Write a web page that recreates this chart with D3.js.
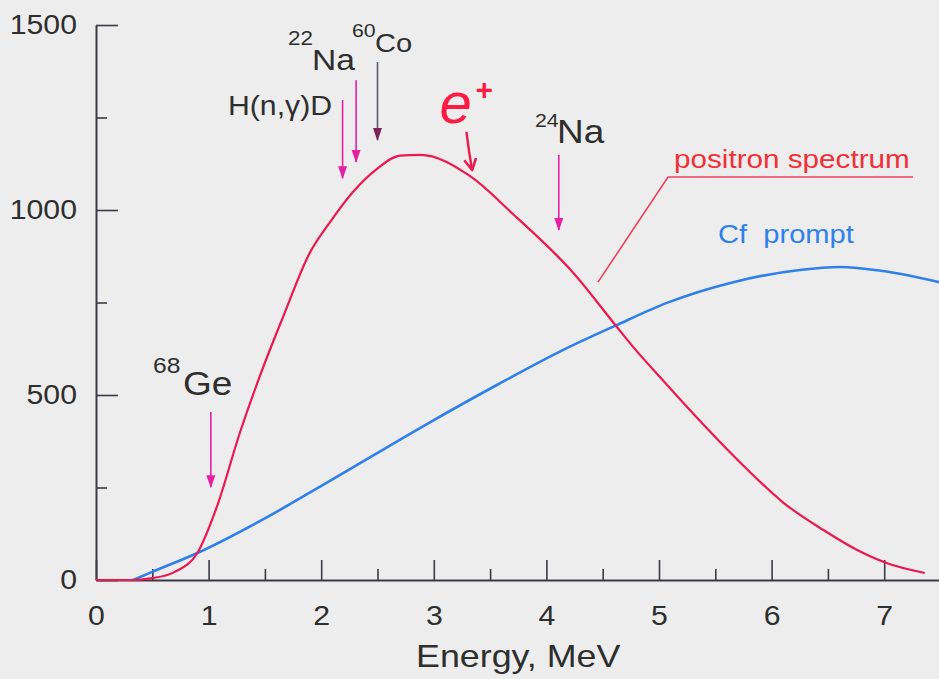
<!DOCTYPE html>
<html><head><meta charset="utf-8">
<script src="https://cdn.jsdelivr.net/npm/d3@7"></script>
<style>
html,body{margin:0;padding:0;background:#ededed;}
svg{display:block;}
text{font-family:"Liberation Sans",Arial,sans-serif;}
.sx{transform-box:fill-box;transform:scaleX(1.12);}
.sx-mid{transform-origin:50% 50%;}
.sx-end{transform-origin:100% 50%;}
.sx-start{transform-origin:0% 50%;}
</style></head><body>
<svg id="chart" width="939" height="679"></svg>
<script>
// ---- data ----
const positronE = [0, 0.3, 0.5, 0.7, 0.9, 1.07, 1.28, 1.46, 1.66, 1.9, 2.08, 2.28, 2.49, 2.7, 2.88, 3.32, 3.7, 4.09, 4.21, 4.61, 4.77, 5.04, 5.34, 5.78, 6.1, 6.46, 6.76, 7.02, 7.36];
const positronN = [0, 0, 5, 22, 73, 195, 400, 555, 710, 885, 968, 1048, 1110, 1147, 1149, 1092, 990, 878, 840, 690, 630, 538, 438, 300, 210, 135, 81, 46, 19];
const cfE = [0.33, 0.5, 0.9, 1.52, 2.1, 2.97, 3.56, 4.15, 4.61, 5.07, 5.66, 6.25, 6.61, 6.99, 7.49];
const cfN = [0, 22, 73, 170, 272, 427, 527, 622, 687, 749, 805, 838, 846, 835, 805];
const xTicks = [0, 1, 2, 3, 4, 5, 6, 7];
const xMinorTicks = [0.5, 1.5, 2.5, 3.5, 4.5, 5.5, 6.5];
const yTicks = [0, 500, 1000, 1500];
const yMinorTicks = [250, 750, 1250];
const xTitle = "Energy, MeV";
const seriesNames = ["positron spectrum", "Cf\u00A0 prompt"];
// source markers: energy, arrow start count, arrow end count
const sourceNames = ["68Ge", "H(n,\u03B3)D", "22Na", "60Co", "24Na"];
const sourceE = [1.02, 2.19, 2.31, 2.50, 4.11];
const sourceFrom = [454, 1297, 1351, 1400, 1149];
const sourceTo = [251, 1086, 1130, 1189, 946];

// ---- layout ----
const W = 939, H = 679;
const svg = d3.select("#chart");
svg.append("rect").attr("width", W).attr("height", H).attr("fill", "#ededed");
const x = d3.scaleLinear().domain([0, 7.5]).range([96, 940.5]);
const y = d3.scaleLinear().domain([0, 1500]).range([580, 25]);

const axisColor = "#3a3a48", textColor = "#2e2e2e";
const red = "#ec1850", blue = "#2f80ea", mag = "#e420a4";

function styleAxis(g) {
  g.select(".domain").attr("stroke", axisColor).attr("stroke-width", 2);
  g.selectAll(".tick line").attr("stroke", axisColor).attr("stroke-width", 1.6);
  g.attr("font-family", null).attr("font-size", null);
  g.selectAll("text").attr("fill", textColor).attr("font-size", 27);
}

// x axis
const gx = svg.append("g").attr("transform", `translate(0,${y(0)})`)
  .call(d3.axisBottom(x).tickValues(xTicks).tickFormat(d3.format("d"))
    .tickSizeInner(-20).tickSizeOuter(0).tickPadding(26));
styleAxis(gx);
gx.selectAll("text").attr("class", "sx sx-mid");
const gxm = svg.append("g").attr("transform", `translate(0,${y(0)})`)
  .call(d3.axisBottom(x).tickValues(xMinorTicks).tickFormat("")
    .tickSizeInner(-11).tickSizeOuter(0));
styleAxis(gxm);
gxm.select(".domain").remove();

// y axis
const gy = svg.append("g").attr("transform", `translate(${x(0)},0)`)
  .call(d3.axisLeft(y).tickValues(yTicks).tickFormat(d3.format("d"))
    .tickSizeInner(-22).tickSizeOuter(0).tickPadding(19));
styleAxis(gy);
gy.selectAll("text").attr("class", "sx sx-end");
const gym = svg.append("g").attr("transform", `translate(${x(0)},0)`)
  .call(d3.axisLeft(y).tickValues(yMinorTicks).tickFormat("")
    .tickSizeInner(-11).tickSizeOuter(0));
styleAxis(gym);
gym.select(".domain").remove();

// axis title
svg.append("text").attr("class", "sx sx-mid")
  .attr("x", x(3.75)).attr("y", 667).attr("text-anchor", "middle")
  .attr("font-size", 32).attr("fill", textColor).text(xTitle);

// curves
const line = d3.line().x(d => x(d[0])).y(d => y(d[1])).curve(d3.curveMonotoneX);
svg.append("path").datum(d3.zip(cfE, cfN)).attr("d", line)
  .attr("fill", "none").attr("stroke", blue).attr("stroke-width", 2.6);
svg.append("path").datum(d3.zip(positronE, positronN)).attr("d", line)
  .attr("fill", "none").attr("stroke", red).attr("stroke-width", 2.2);

// arrow heads
const defs = svg.append("defs");
function head(id, color) {
  defs.append("marker").attr("id", id).attr("markerUnits", "userSpaceOnUse")
    .attr("viewBox", "0 -5 13 10").attr("refX", 12).attr("refY", 0)
    .attr("markerWidth", 13).attr("markerHeight", 10).attr("orient", "auto")
    .append("path").attr("d", "M0,-4.5L13,0L0,4.5Z").attr("fill", color);
}
head("hMag", mag);
head("hDark", "#7a2458");
defs.append("marker").attr("id", "hRed").attr("markerUnits", "userSpaceOnUse")
  .attr("viewBox", "-1 -7 14 14").attr("refX", 11).attr("refY", 0)
  .attr("markerWidth", 14).attr("markerHeight", 14).attr("orient", "auto")
  .append("path").attr("d", "M0,-6L11,0L0,6").attr("fill", "none")
  .attr("stroke", red).attr("stroke-width", 2.6).attr("stroke-linejoin", "round");

// source arrows
sourceE.forEach((e, i) => {
  const dark = sourceNames[i] === "60Co";
  svg.append("line")
    .attr("x1", x(e)).attr("x2", x(e))
    .attr("y1", y(sourceFrom[i])).attr("y2", y(sourceTo[i]))
    .attr("stroke", dark ? "#5a5a68" : mag).attr("stroke-width", 1.6)
    .attr("marker-end", dark ? "url(#hDark)" : "url(#hMag)");
});

// source labels (mass number + element), positioned in data units
function lab(txt, e, v, size, color, extra) {
  const t = svg.append("text").attr("class", "sx sx-start")
    .attr("x", x(e)).attr("y", y(v)).attr("font-size", size)
    .attr("fill", color || textColor).text(txt);
  if (extra) extra(t);
  return t;
}
lab("68", 0.506, 559, 22);
lab("Ge", 0.773, 500, 33);
lab("H(n,\u03B3)D", 1.172, 1257, 27);
lab("22", 1.705, 1446, 20);
lab("Na", 1.918, 1378, 30);
lab("60", 2.273, 1468, 19);
lab("Co", 2.478, 1427, 26);
lab("24", 3.899, 1224, 19);
lab("Na", 4.094, 1181, 33);

// e+ label and arrow
svg.append("text").attr("x", x(3.05)).attr("y", y(1235))
  .attr("font-size", 58).attr("font-style", "italic").attr("fill", "#ff1a44")
  .attr("font-family", "'DejaVu Sans', sans-serif").text("e");
svg.append("text").attr("x", x(3.37)).attr("y", y(1297))
  .attr("font-size", 30).attr("font-weight", "bold").attr("fill", "#ff1a44")
  .attr("font-family", "'DejaVu Sans', sans-serif").text("+");
svg.append("path")
  .attr("d", `M${x(3.29)},${y(1211)} Q${x(3.31)},${y(1160)} ${x(3.34)},${y(1108)}`)
  .attr("fill", "none").attr("stroke", red).attr("stroke-width", 2.4)
  .attr("marker-end", "url(#hRed)");

// series labels
lab(seriesNames[0], 5.133, 1114, 26.5, "#f03038");
svg.append("polyline")
  .attr("points", [[x(4.458), y(805)], [x(5.08), y(1089)], [x(7.256), y(1089)]].map(p => p.join(",")).join(" "))
  .attr("fill", "none").attr("stroke", "#f0405a").attr("stroke-width", 1.6);
lab(seriesNames[1], 5.524, 911, 26, blue, t => t.style("white-space", "pre"));
</script>
</body></html>
